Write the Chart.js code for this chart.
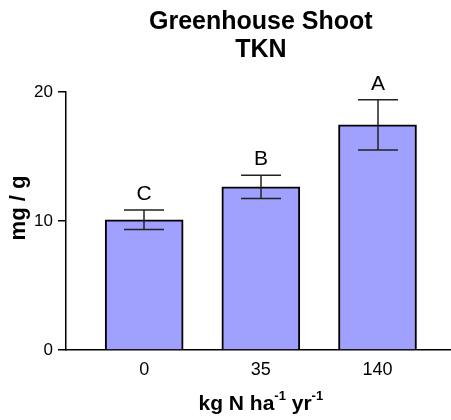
<!DOCTYPE html>
<html>
<head>
<meta charset="utf-8">
<script src="https://cdn.jsdelivr.net/npm/chart.js@4.4.1/dist/chart.umd.min.js"></script>
<style>
  html, body { margin: 0; padding: 0; background: #fff; }
  #wrap { width: 451px; height: 420px; }
</style>
</head>
<body>
<div id="wrap"><canvas id="chart"></canvas></div>
<script>
// data
const categories = ["0", "35", "140"];
const means = [10.1, 12.65, 17.45];
const errors = [0.75, 0.9, 1.95];
const letters = ["C", "B", "A"];
const titleLines = ["Greenhouse Shoot", "TKN"];
const yTitle = "mg / g";

const FONT = "'Liberation Sans', Arial, Helvetica, sans-serif";

// error bars, significance letters and the titles (x title has superscripts)
const extras = {
    id: 'extras',
    afterDatasetsDraw(chart) {
        const { ctx, scales: { x, y } } = chart;
        ctx.save();
        ctx.strokeStyle = '#222';
        ctx.lineWidth = 1.5;
        means.forEach((m, i) => {
            const cx = Math.round(x.getPixelForValue(i));
            const top = y.getPixelForValue(m + errors[i]);
            const bot = y.getPixelForValue(m - errors[i]);
            ctx.beginPath();
            ctx.moveTo(cx, top); ctx.lineTo(cx, bot);
            ctx.moveTo(cx - 20, top); ctx.lineTo(cx + 20, top);
            ctx.moveTo(cx - 20, bot); ctx.lineTo(cx + 20, bot);
            ctx.stroke();

            ctx.fillStyle = '#000';
            ctx.font = '21px ' + FONT;
            ctx.textAlign = 'center';
            ctx.textBaseline = 'alphabetic';
            ctx.fillText(letters[i], cx, top - 10);
        });
        ctx.restore();
    },
    afterDraw(chart) {
        const { ctx, scales: { x } } = chart;
        const mid = (x.getPixelForValue(0) + x.getPixelForValue(categories.length - 1)) / 2;
        ctx.save();
        ctx.fillStyle = '#000';
        ctx.textBaseline = 'alphabetic';

        // main title
        ctx.textAlign = 'center';
        ctx.font = 'bold 25px ' + FONT;
        titleLines.forEach((t, i) => ctx.fillText(t, mid, 29 + i * 28));

        // x axis title: kg N ha^-1 yr^-1
        const parts = [["kg N ha", false], ["-1", true], [" yr", false], ["-1", true]];
        const big = 'bold 21px ' + FONT, small = 'bold 13px ' + FONT;
        let w = 0;
        parts.forEach(([t, sup]) => { ctx.font = sup ? small : big; w += ctx.measureText(t).width; });
        let px = mid - w / 2;
        ctx.textAlign = 'left';
        parts.forEach(([t, sup]) => {
            ctx.font = sup ? small : big;
            ctx.fillText(t, px, sup ? 400 : 410);
            px += ctx.measureText(t).width;
        });

        // y axis title
        ctx.translate(25, 208);
        ctx.rotate(-Math.PI / 2);
        ctx.textAlign = 'center';
        ctx.font = 'bold 22px ' + FONT;
        ctx.fillText(yTitle, 0, 0);
        ctx.restore();
    }
};

const ctx = document.getElementById("chart").getContext("2d");

const chart = new Chart(ctx, {
    type: 'bar',
    data: {
        datasets: [{
            data: means.map((m, i) => ({ x: i, y: m })),
            backgroundColor: '#a0a0ff',
            borderColor: '#000',
            borderWidth: 2,
            barThickness: 78
        }]
    },
    options: {
        responsive: true,
        maintainAspectRatio: false,
        animation: false,
        layout: { padding: { top: 92, left: 0, right: 0, bottom: 0 } },
        plugins: {
            legend: { display: false },
            tooltip: { enabled: false },
            title: { display: false }
        },
        scales: {
            x: {
                type: 'linear',
                offset: false,
                min: -0.67,
                max: 2.63,
                afterBuildTicks: s => { s.ticks = categories.map((c, i) => ({ value: i })); },
                afterFit: s => { s.height = 70; },
                ticks: {
                    callback: v => categories[v],
                    color: '#000',
                    font: { family: FONT, size: 18 },
                    padding: 9,
                    maxRotation: 0
                },
                grid: { display: false, drawTicks: false, offset: false },
                border: { display: true, color: '#000', width: 1.5 }
            },
            y: {
                min: 0,
                max: 20,
                afterFit: s => { s.width = 66; },
                ticks: {
                    stepSize: 10,
                    color: '#000',
                    font: { family: FONT, size: 17 },
                    padding: 5
                },
                grid: { drawOnChartArea: false, drawTicks: true, tickLength: 8, color: '#000', lineWidth: 1.5 },
                border: { display: true, color: '#000', width: 1.5 }
            }
        }
    },
    plugins: [extras]
});
</script>
</body>
</html>
